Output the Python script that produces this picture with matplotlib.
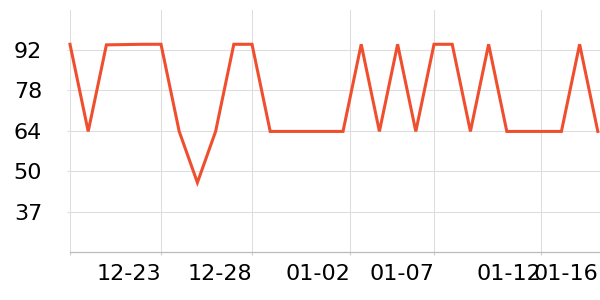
import matplotlib
matplotlib.use("Agg")
import matplotlib.pyplot as plt

dates = ["12-18","12-19","12-20","12-21","12-22","12-23","12-24","12-25","12-26","12-27",
         "12-28","12-29","12-30","12-31","01-01","01-02","01-03","01-04","01-05","01-06",
         "01-07","01-08","01-09","01-10","01-11","01-12","01-13","01-14","01-15","01-16"]
values = [94.1, 64.1, 93.9, 94.0, 94.1, 94.1, 64.1, 46.5, 64.1, 94.1,
          94.1, 64.1, 64.1, 64.1, 64.1, 64.1, 94.1, 64.1, 94.1, 64.1,
          94.1, 94.1, 64.1, 94.1, 64.1, 64.1, 64.1, 64.1, 94.1, 64.1]
xtick_pos = [0, 5, 10, 15.4, 20, 25.9, 29]
xtick_labels = ["", "12-23", "12-28", "01-02", "01-07", "01-12", "01-16"]
ytick_pos = [36.5, 50.4, 64.3, 78.2, 92.1]
ytick_labels = ["37", "50", "64", "78", "92"]

fig = plt.figure(figsize=(6, 3), dpi=100)
ax = fig.add_axes([70/600, 48/300, 530/600, 242/300])
x = list(range(len(dates)))
ax.plot(x, values, color="#ef4f2f", lw=2.2, solid_joinstyle="miter", clip_on=False, zorder=3)
ax.set_xlim(0, 29.12)
ax.set_ylim(22.6, 105.9)

ax.set_xticks(xtick_pos)
ax.set_xticklabels(xtick_labels, fontsize=16, ha="right")
ax.set_yticks(ytick_pos)
ax.set_yticklabels(ytick_labels, fontsize=16)

ax.grid(True, color="#dddddd", lw=0.75)
gl = ax.xaxis.get_gridlines()
gl[-1].set_visible(False)
ax.xaxis.get_major_ticks()[-1].tick1line.set_visible(False)

for s in ["top", "right", "left"]:
    ax.spines[s].set_visible(False)
ax.spines["bottom"].set_color("#bbbbbb")
ax.spines["bottom"].set_linewidth(0.9)
ax.tick_params(axis="x", length=2.5, color="#cccccc", pad=6, labelcolor="black")
ax.tick_params(axis="y", length=2, color="#dddddd", pad=18, labelcolor="black")
ax.set_axisbelow(True)

fig.savefig("out.png", dpi=100)
